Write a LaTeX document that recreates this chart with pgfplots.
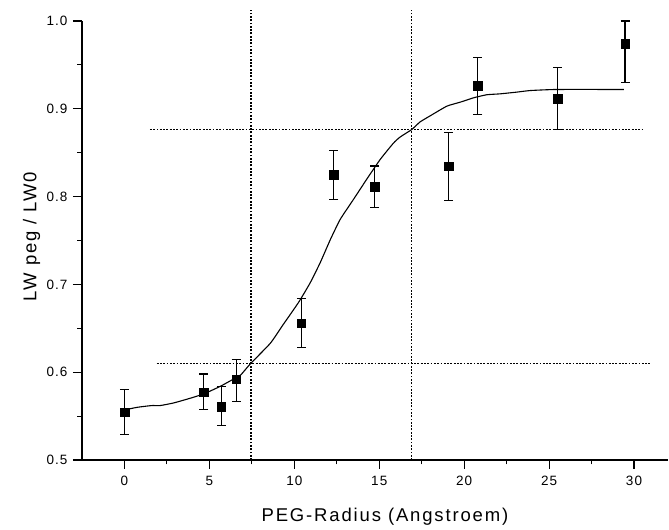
\documentclass[border=0pt]{standalone}
\usepackage{pgfplots}
\pgfplotsset{compat=1.18}
\usepackage{fontspec}
\setmainfont{Liberation Sans}
\begin{document}
\begin{tikzpicture}
\begin{axis}[
  scale only axis,
  width=586pt, height=439pt,
  xmin=-2.5, xmax=32, ymin=0.5, ymax=1.0,
  clip=false,
  axis x line=bottom, axis y line=left,
  axis line style={-, line width=1.1pt},
  tick align=outside,
  major tick length=9pt, minor tick length=4.5pt,
  tick style={black, line width=1.1pt},
  xtick={0,5,10,15,20,25,30},
  ytick={0.5,0.6,0.7,0.8,0.9,1.0},
  minor x tick num=1, minor y tick num=1,
  yticklabel style={xshift=-2pt, /pgf/number format/fixed, /pgf/number format/fixed zerofill, /pgf/number format/precision=1},
  /pgf/number format/assume math mode=true,
  tick label style={font=\fontsize{13.5}{15}\selectfont\addfontfeature{LetterSpace=8}},
  xticklabel style={yshift=-4pt},
  xlabel={PEG-Radius (Angstroem)},
  ylabel={LW peg / LW0},
  label style={font=\fontsize{18.5}{20}\selectfont\addfontfeature{LetterSpace=10}},
  xlabel style={at={(axis description cs:0.517,0)}, anchor=base, yshift=-62pt},
  ylabel style={at={(axis description cs:0,0.509)}, anchor=base, yshift=45.5pt},
]
% reference dotted lines
\addplot[black, line width=1.1pt, dash pattern=on 1.8pt off 1.5pt] coordinates {(7.45,0.5) (7.45,1.0125)};
\addplot[black, line width=1.1pt, dash pattern=on 1.8pt off 1.5pt] coordinates {(16.92,0.5) (16.92,1.0125)};
\addplot[black, line width=1.1pt, dash pattern=on 1.8pt off 1.5pt] coordinates {(1.5,0.8768) (30.6,0.8768)};
\addplot[black, line width=1.1pt, dash pattern=on 1.8pt off 1.5pt] coordinates {(1.9,0.6095) (31.0,0.6095)};
% fitted curve
\addplot[black, line width=1.1pt, smooth, tension=0.3] coordinates {
(0,0.557) (0.75,0.560) (1.6,0.562) (2.1,0.562) (2.9,0.565) (3.9,0.5705)
(4.7,0.5755) (5.65,0.584) (6.45,0.5925) (6.85,0.597) (7.41,0.6095) (8.59,0.633)
(9.3,0.653) (10.25,0.6795) (10.94,0.702) (11.53,0.725) (12.12,0.751) (12.7,0.774)
(13.49,0.797) (14.27,0.820) (15.06,0.8424) (15.84,0.861) (16.24,0.868) (16.92,0.8765)
(17.4,0.885) (18.0,0.892) (18.98,0.903) (19.76,0.9075) (20.55,0.9125) (21.33,0.916)
(22.1,0.917) (23.1,0.919) (23.9,0.9208) (25.45,0.922) (29.4,0.922)};
% data with error bars
\addplot[only marks, mark=square*, mark size=4.3pt, black,
  error bars/.cd, y dir=both, y explicit,
  error bar style={line width=1.1pt, black},
  error mark options={rotate=90, mark size=4.5pt, line width=1.1pt, black}]
  table[x=x, y=y, y error plus=ep, y error minus=em] {
x y ep em
0 0.5545 0.0255 0.0255
4.67 0.577 0.021 0.019
5.7 0.561 0.023 0.022
6.57 0.592 0.022 0.025
10.41 0.6557 0.028 0.028
12.33 0.825 0.028 0.028
14.73 0.8113 0.0235 0.0238
19.08 0.8348 0.038 0.039
20.8 0.9265 0.0315 0.0335
25.5 0.9117 0.0353 0.0357
29.47 0.974 0.026 0.0445
};
\end{axis}
\path ([shift={(-82pt,-68pt)}]current axis.south west) rectangle ([shift={(1pt,21pt)}]current axis.north east);
\end{tikzpicture}
\end{document}
